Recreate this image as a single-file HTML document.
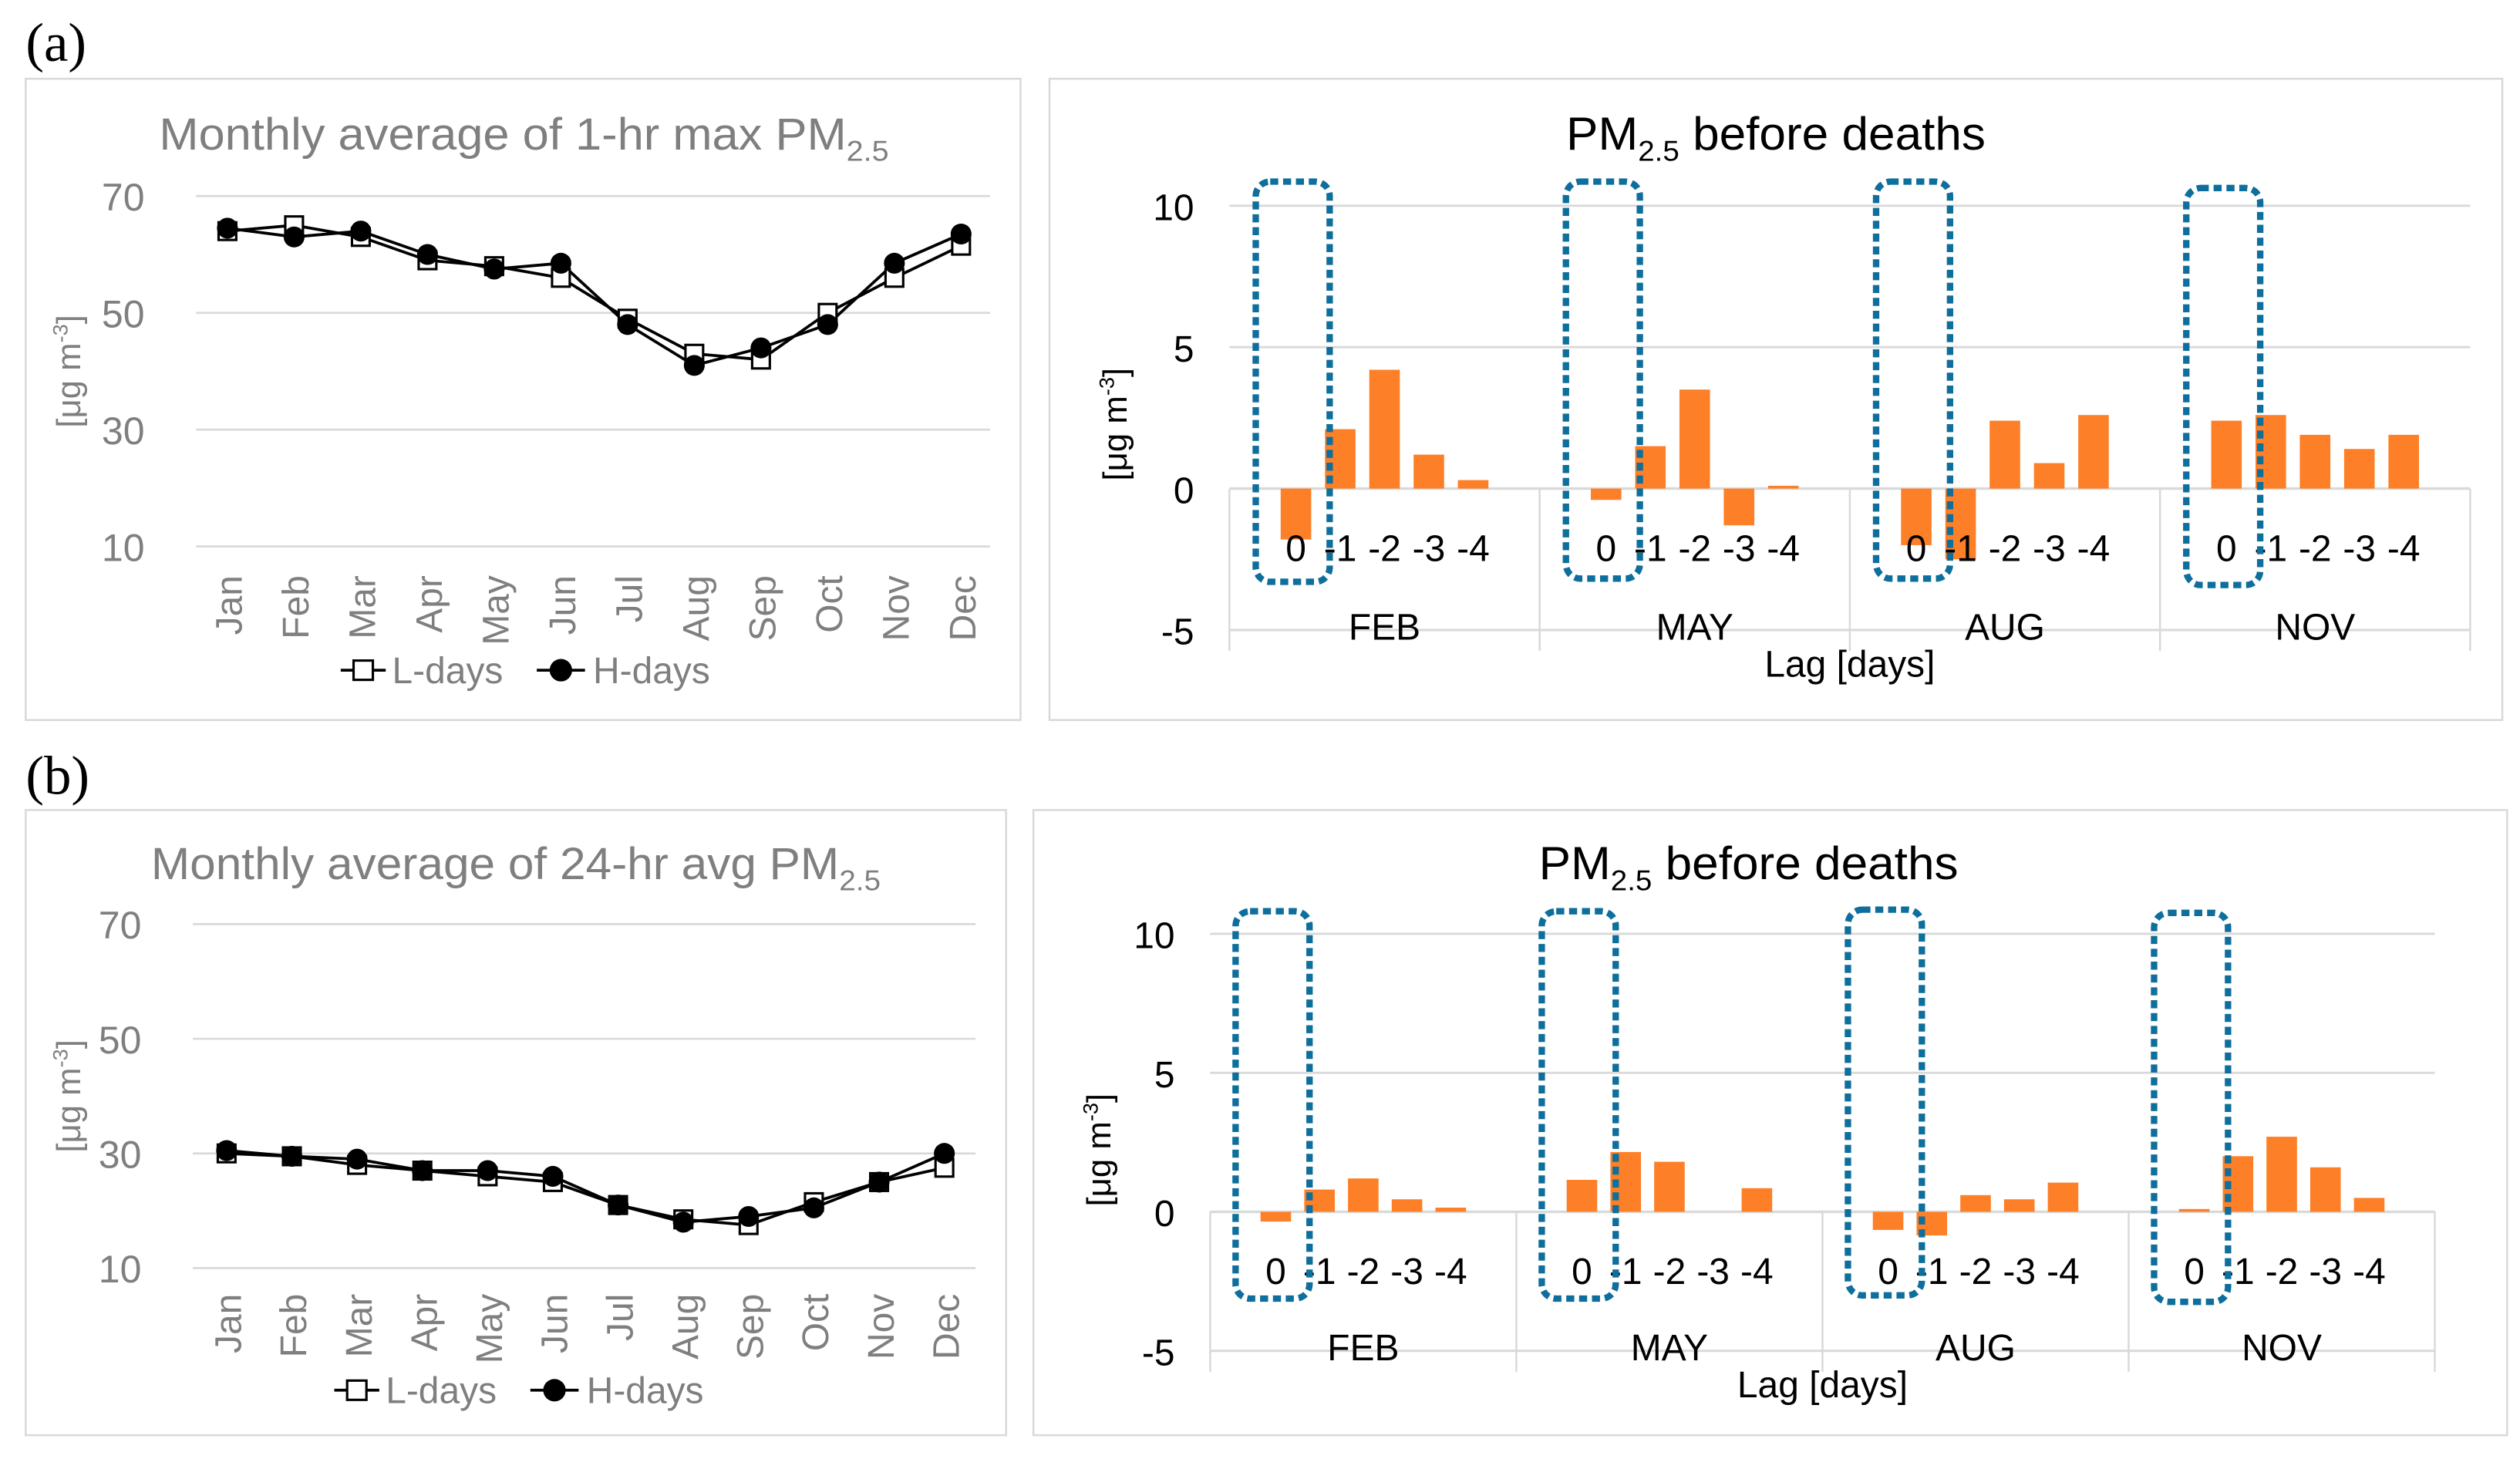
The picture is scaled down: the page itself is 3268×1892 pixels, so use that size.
<!DOCTYPE html>
<html><head><meta charset="utf-8">
<style>
html,body{margin:0;padding:0;background:#fff;}
svg{display:block;}
text{font-family:"Liberation Sans",sans-serif;}
</style></head>
<body>
<svg id="fig" width="3268" height="1892" viewBox="0 0 1568 907.8" preserveAspectRatio="none" xmlns="http://www.w3.org/2000/svg">
<text x="16" y="38" style="font-family:'Liberation Serif',serif" font-size="34" fill="#000">(a)</text>
<text x="16" y="494" style="font-family:'Liberation Serif',serif" font-size="34" fill="#000">(b)</text>
</svg>
<script>
const months=['Jan','Feb','Mar','Apr','May','Jun','Jul','Aug','Sep','Oct','Nov','Dec'];
const lineTicks=[10,30,50,70];
const aLdays=[64,65,63,59,58,56,49,43,42,50,56,61.5];
const aHdays=[64.5,63,64,60,57.5,58.5,48,41,44,48,58.5,63.5];
const bLdays=[30,29.5,28,27,26,25,21,18.5,17.5,21.5,25,27.5];
const bHdays=[30.5,29.5,29,27,27,26,21,18,19,20.5,25,30];
const groups=['FEB','MAY','AUG','NOV'];
const lags=['0','-1','-2','-3','-4'];
const barTicks=[-5,0,5,10];
const aFEB=[-1.8,2.1,4.2,1.2,0.3];
const aMAY=[-0.4,1.5,3.5,-1.3,0.1];
const aAUG=[-2.0,-2.5,2.4,0.9,2.6];
const aNOV=[2.4,2.6,1.9,1.4,1.9];
const bFEB=[-0.35,0.8,1.2,0.45,0.15];
const bMAY=[1.15,2.15,1.8,0,0.85];
const bAUG=[-0.65,-0.85,0.6,0.45,1.05];
const bNOV=[0.1,2.0,2.7,1.6,0.5];

const NS='http://www.w3.org/2000/svg';
const svg=document.getElementById('fig');
function mk(tag,attrs,parent,txt){const e=document.createElementNS(NS,tag);for(const k in attrs)e.setAttribute(k,attrs[k]);if(txt!==undefined)e.textContent=txt;(parent||svg).appendChild(e);return e;}

function lineChart(p){
  const g=mk('g',{});
  
  
  const r=mk('rect',{x:p.bx,y:p.by,width:p.bw,height:p.bh,fill:'#fff',stroke:'#d9d9d9','stroke-width':1.2},g);
  
  const t=mk('text',{x:p.tx,y:p.ty,'text-anchor':'middle','font-size':28,fill:'#7f7f7f','textLength':p.tl,'lengthAdjust':'spacingAndGlyphs'},g);
  
  t.textContent=p.title+' PM';
  mk('tspan',{'font-size':18,dy:7},t,'2.5');
  const yv=v=>p.y10+(v-10)*(p.y70-p.y10)/60;
  const xv=i=>p.x0+i*p.dx;
  lineTicks.forEach(v=>{
    const l=mk('line',{x1:p.px1,x2:p.px2,y1:yv(v),y2:yv(v),stroke:'#d9d9d9','stroke-width':1.3},g);
    
    const tl=mk('text',{x:p.px1-32,y:yv(v)+9,'text-anchor':'end','font-size':24,fill:'#7f7f7f'},g,String(v));
    
  });
  const yt=mk('text',{transform:`translate(${p.bx+34},${(yv(10)+yv(70))/2}) rotate(-90)`,'text-anchor':'middle','font-size':21,fill:'#7f7f7f'},g,'[μg m');
  mk('tspan',{'font-size':13,dy:-8},yt,'-3');mk('tspan',{dy:8},yt,']');
  
  months.forEach((m,i)=>{
    const ml=mk('text',{transform:`translate(${xv(i)+9},${p.my}) rotate(-90)`,'text-anchor':'end','font-size':23,fill:'#7f7f7f'},g,m);
    
  });
  const pl=(arr)=>arr.map((v,i)=>xv(i)+','+yv(v)).join(' ');
  const lL=mk('polyline',{points:pl(p.L),fill:'none',stroke:'#000','stroke-width':1.8},g);
  
  const lH=mk('polyline',{points:pl(p.H),fill:'none',stroke:'#000','stroke-width':1.8},g);
  
  p.L.forEach((v,i)=>{const q=mk('rect',{x:xv(i)-5.5,y:yv(v)-5.5,width:11,height:11,fill:'#fff',stroke:'#000','stroke-width':1.5},g);
    });
  p.H.forEach((v,i)=>{const c=mk('circle',{cx:xv(i),cy:yv(v),r:6.5,fill:'#000'},g);
    });
  const lg=mk('g',{},g);
  const lx=p.lx, ly=p.ly;
  mk('line',{x1:lx,x2:lx+28,y1:ly,y2:ly,stroke:'#000','stroke-width':1.8},lg);
  mk('rect',{x:lx+8,y:ly-6,width:12,height:12,fill:'#fff',stroke:'#000','stroke-width':1.5},lg);
  mk('text',{x:lx+32,y:ly+8,'font-size':23,fill:'#7f7f7f'},lg,'L-days');
  mk('line',{x1:lx+122,x2:lx+152,y1:ly,y2:ly,stroke:'#000','stroke-width':1.8},lg);
  mk('circle',{cx:lx+137,cy:ly,r:7,fill:'#000'},lg);
  mk('text',{x:lx+157,y:ly+8,'font-size':23,fill:'#7f7f7f'},lg,'H-days');
}

function barChart(p){
  const g=mk('g',{});
  
  
  const r=mk('rect',{x:p.bx,y:p.by,width:p.bw,height:p.bh,fill:'#fff',stroke:'#d9d9d9','stroke-width':1.2},g);
  
  const t=mk('text',{x:p.tx,y:p.ty,'text-anchor':'middle','font-size':29,fill:'#000','textLength':261,'lengthAdjust':'spacingAndGlyphs'},g,'PM');
  
  mk('tspan',{'font-size':18,dy:7},t,'2.5');mk('tspan',{dy:-7},t,' before deaths');
  const yv=v=>p.y0+v*(p.y10-p.y0)/10;
  const gw=(p.px2-p.px1)/groups.length;
  const slot=gw/7;
  barTicks.forEach(v=>{
    const l=mk('line',{x1:p.px1,x2:p.px2,y1:yv(v),y2:yv(v),stroke:'#d9d9d9','stroke-width':v===0?1.6:1.4},g);
    
    const tl=mk('text',{x:p.px1-22,y:yv(v)+9,'text-anchor':'end','font-size':23,fill:'#000'},g,String(v));
    
  });
  for(let k=0;k<=groups.length;k++){
    const x=p.px1+k*gw;
    const l=mk('line',{x1:x,x2:x,y1:yv(0),y2:yv(-5)+13,stroke:'#d9d9d9','stroke-width':1.2},g);
    
  }
  const yt=mk('text',{transform:`translate(${p.bx+48},${(yv(0)+yv(10))/2+48}) rotate(-90)`,'text-anchor':'middle','font-size':21,fill:'#000'},g,'[μg m');
  mk('tspan',{'font-size':13,dy:-8},yt,'-3');mk('tspan',{dy:8},yt,']');
  
  groups.forEach((gn,gi)=>{
    const gx=p.px1+gi*gw;
    p.data[gi].forEach((v,j)=>{
      const cx=gx+(j+1.5)*slot;
      const b=mk('rect',{x:cx-9.5,y:Math.min(yv(v),yv(0)),width:19,height:Math.abs(yv(v)-yv(0)),fill:'#fd7f27'},g);
      
      
      const lt=mk('text',{x:cx,y:yv(0)+45,'text-anchor':'middle','font-size':23,fill:'#000'},g,lags[j]);
      
    });
    const gl=mk('text',{x:gx+gw/2,y:yv(-5)+6,'text-anchor':'middle','font-size':23,fill:'#000'},g,gn);
    
    const cx0=gx+1.5*slot;
    const hl=mk('rect',{x:cx0-25,y:p.hy1[gi],width:46,height:p.hy2[gi]-p.hy1[gi],rx:9,fill:'none',stroke:'#0e6e9c','stroke-width':4,'stroke-dasharray':'5 3'},g);
    
  });
  const xt=mk('text',{x:(p.px1+p.px2)/2,y:yv(-5)+29,'text-anchor':'middle','font-size':23,fill:'#000'},g,'Lag [days]');
  
}

lineChart({name:'chart-1hr-max',bx:16,by:49,bw:619,bh:399,tx:326,ty:93,tl:454,title:'Monthly average of 1-hr max',
  y10:340,y70:122,px1:122,px2:616,x0:141.5,dx:41.5,my:358,L:aLdays,H:aHdays,lx:212,ly:417});
lineChart({name:'chart-24hr-avg',bx:16,by:504,bw:610,bh:389,tx:321,ty:547,tl:454,title:'Monthly average of 24-hr avg',
  y10:789,y70:575,px1:120,px2:607,x0:141,dx:40.6,my:805,L:bLdays,H:bHdays,lx:208,ly:865});
barChart({name:'chart-before-deaths-1hr',bx:653,by:49,bw:904,bh:399,tx:1105,ty:93,y0:304,y10:128,px1:765,px2:1537,
  data:[aFEB,aMAY,aAUG,aNOV],hy1:[113,113,113,117],hy2:[362,360,360,364]});
barChart({name:'chart-before-deaths-24hr',bx:643,by:504,bw:917,bh:389,tx:1088,ty:547,y0:754,y10:581,px1:753,px2:1515,
  data:[bFEB,bMAY,bAUG,bNOV],hy1:[567,567,566,568],hy2:[808,808,806,810]});
</script>
</body></html>
